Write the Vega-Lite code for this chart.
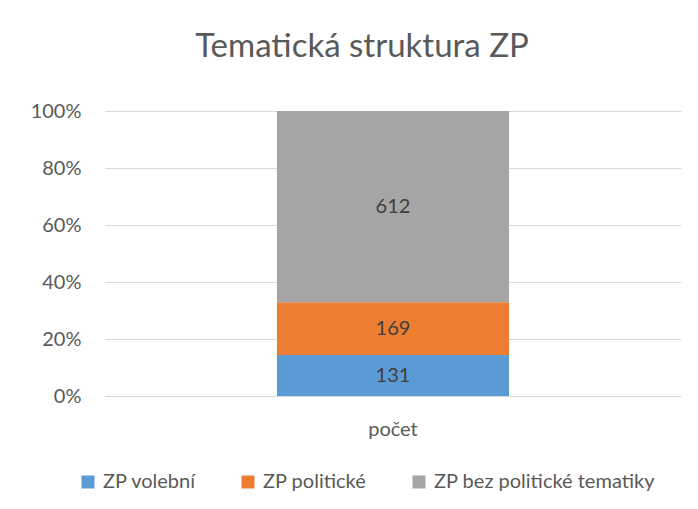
{
  "$schema": "https://vega.github.io/schema/vega-lite/v6.json",
  "width": 576,
  "height": 285,
  "autosize": {"type": "none"},
  "padding": {"left": 105, "top": 111, "right": 17, "bottom": 113},
  "background": "white",
  "config": {"view": {"stroke": null}, "font": "Lato"},
  "title": {
    "text": "Tematická struktura ZP",
    "fontSize": 33,
    "fontWeight": 400,
    "color": "#595959",
    "font": "Lato",
    "anchor": "middle",
    "offset": 37,
    "dx": -31
  },
  "data": {
    "values": [
      {"kategorie": "počet", "skupina": "ZP volební", "pocet": 131, "poradi": 1},
      {"kategorie": "počet", "skupina": "ZP politické", "pocet": 169, "poradi": 2},
      {"kategorie": "počet", "skupina": "ZP bez politické tematiky", "pocet": 612, "poradi": 3}
    ]
  },
  "transform": [
    {
      "stack": "pocet",
      "groupby": ["kategorie"],
      "sort": [{"field": "poradi", "order": "ascending"}],
      "offset": "normalize",
      "as": ["y0", "y1"]
    }
  ],
  "layer": [
    {
      "mark": {"type": "bar", "width": {"band": 0.403}},
      "encoding": {
        "x": {
          "field": "kategorie",
          "type": "nominal",
          "scale": {"paddingInner": 0, "paddingOuter": 0},
          "axis": {
            "title": null,
            "labelAngle": 0,
            "ticks": false,
            "domainColor": "#D9D9D9",
            "labelFontSize": 20,
            "labelColor": "#595959",
            "labelPadding": 23
          }
        },
        "y": {
          "field": "y0",
          "type": "quantitative",
          "scale": {"domain": [0, 1]},
          "axis": {
            "title": null,
            "format": ".0%",
            "values": [0, 0.2, 0.4, 0.6, 0.8, 1],
            "domain": false,
            "ticks": false,
            "labelPadding": 24,
            "labelFontSize": 20,
            "labelColor": "#595959",
            "gridColor": "#D9D9D9",
            "gridWidth": 1
          }
        },
        "y2": {"field": "y1"},
        "color": {
          "field": "skupina",
          "type": "nominal",
          "scale": {
            "domain": ["ZP volební", "ZP politické", "ZP bez politické tematiky"],
            "range": ["#5B9BD5", "#ED7D31", "#A5A5A5"]
          },
          "legend": {
            "title": null,
            "orient": "none",
            "legendX": -27,
            "legendY": 361,
            "direction": "horizontal",
            "symbolType": "square",
            "symbolSize": 169,
            "symbolStrokeWidth": 0,
            "labelFontSize": 20,
            "labelColor": "#595959",
            "labelOffset": 5,
            "labelLimit": 400,
            "columnPadding": 42,
            "padding": 0
          }
        }
      }
    },
    {
      "transform": [
        {"fold": ["y0", "y1"], "as": ["kraj", "hodnota"]},
        {
          "aggregate": [{"op": "mean", "field": "hodnota", "as": "stred"}],
          "groupby": ["kategorie", "skupina", "pocet"]
        }
      ],
      "mark": {"type": "text", "fontSize": 20, "color": "#404040", "baseline": "middle"},
      "encoding": {
        "x": {"field": "kategorie", "type": "nominal"},
        "y": {"field": "stred", "type": "quantitative"},
        "text": {"field": "pocet", "type": "quantitative"}
      }
    }
  ]
}
